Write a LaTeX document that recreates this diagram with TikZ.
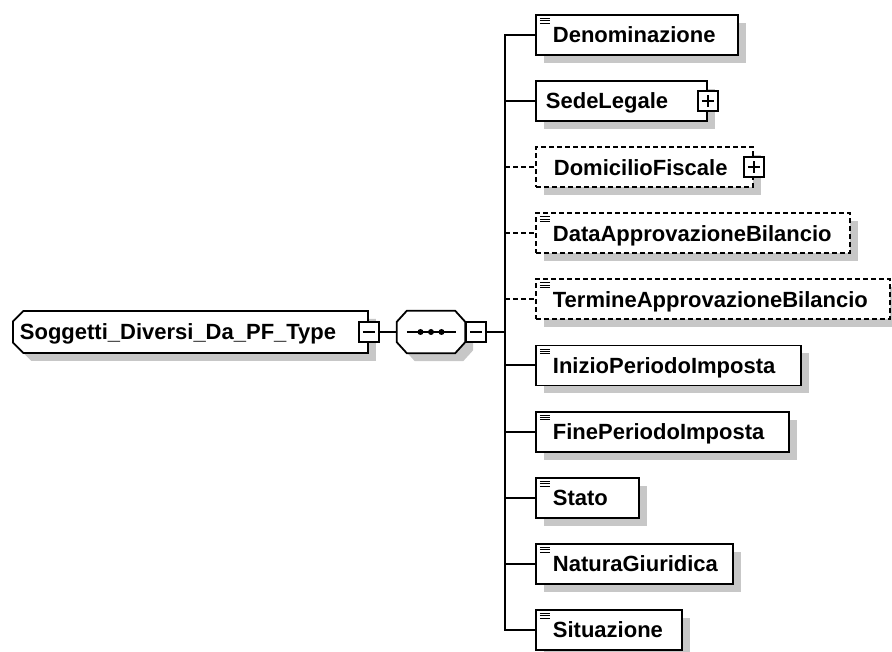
\documentclass[tikz,border=0pt]{standalone}
\usepackage{fontspec}
\setmainfont{Liberation Sans}
\usetikzlibrary{positioning, shapes.misc, shadows}

\tikzset{
    xsdline/.style={line width=2pt},
    optional/.style={dash pattern=on 5pt off 3pt},
    xsdshadow/.style={general shadow={fill=black!22, shadow xshift=8pt, shadow yshift=-8pt}},
    xsdfont/.style={font=\bfseries\fontsize{22}{26}\selectfont},
    elem/.style={draw, fill=white, line width=1.8pt, anchor=west, minimum height=40pt,
        inner xsep=17pt, inner ysep=0pt, align=left, text height=15.8pt, text depth=0pt,
        xsdfont, xsdshadow},
    simple/.style={path picture={
        \foreach \k in {0,1,2}
            \draw[line width=0.9pt, solid] ([xshift=4pt, yshift=-3.5pt-\k*2.4pt]path picture bounding box.north west) -- ++(10pt,0pt);
    }},
    rootbox/.style={chamfered rectangle, chamfered rectangle corners={north west,south west},
        chamfered rectangle xsep=7pt, draw, fill=white, line width=1.8pt, anchor=west,
        minimum height=42pt, inner xsep=0pt, inner ysep=0pt, align=left, text width=341pt,
        text height=15.8pt, text depth=0pt, xsdfont, xsdshadow},
    seqbox/.style={minimum width=68pt, minimum height=42pt, inner sep=0pt},
    pmbox/.style={draw, fill=white, line width=1.8pt, minimum size=20pt, inner sep=0pt},
    minusbox/.style={pmbox, path picture={
        \draw[line width=1.4pt, solid] ([xshift=4pt]path picture bounding box.west) -- ([xshift=-4pt]path picture bounding box.east);
    }},
    plusbox/.style={pmbox, path picture={
        \draw[line width=1.4pt, solid] ([xshift=4pt]path picture bounding box.west) -- ([xshift=-4pt]path picture bounding box.east)
            ([yshift=-4pt]path picture bounding box.north) -- ([yshift=4pt]path picture bounding box.south);
    }}
}

\begin{document}
\begin{tikzpicture}[x=1pt, y=-1pt]
    \useasboundingbox (0,0) rectangle (892,652);

    % complex type and its sequence
    \node[rootbox] (root) at (12,332) {Soggetti\_Diversi\_Da\_PF\_Type};
    \node[minusbox] (rootM) at (root.east) {};
    \node[seqbox] (seq) at (431,332) {};
    \draw[line width=1.8pt, fill=white, xsdshadow]
        ([xshift=10pt]seq.north west) -- ([xshift=-10pt]seq.north east)
        -- ([yshift=-11pt]seq.north east) -- ([yshift=11pt]seq.south east)
        -- ([xshift=-10pt]seq.south east) -- ([xshift=10pt]seq.south west)
        -- ([yshift=11pt]seq.south west) -- ([yshift=-11pt]seq.north west) -- cycle;
    \draw[line width=1.6pt] ([xshift=10pt]seq.west) -- ([xshift=-9pt]seq.east);
    \foreach \d in {-10.5,0,10.5}
        \fill[black] ([xshift=\d pt]seq.center) circle (3pt);
    \node[minusbox, right=0pt of seq] (seqM) {};
    \coordinate (hub) at (505,332);

    % child elements
    \node[elem, simple, text width=168pt] (denom) at (535,35) {Denominazione};
    \node[elem, text width=151pt, inner xsep=10pt] (sede) at (535,101.1) {SedeLegale};
    \node[elem, optional, text width=181pt, inner xsep=18pt] (domic) at (535,167.2) {DomicilioFiscale};
    \node[elem, optional, simple, text width=280pt] (dataApp) at (535,233.3) {DataApprovazioneBilancio};
    \node[elem, optional, simple, text width=320pt] (termApp) at (535,299.4) {TermineApprovazioneBilancio};
    \node[elem, simple, text width=231pt] (inizio) at (535,365.5) {InizioPeriodoImposta};
    \node[elem, simple, text width=219pt] (fine) at (535,431.6) {FinePeriodoImposta};
    \node[elem, simple, text width=69pt] (stato) at (535,497.7) {Stato};
    \node[elem, simple, text width=163pt] (natura) at (535,563.8) {NaturaGiuridica};
    \node[elem, simple, text width=112pt] (situaz) at (535,629.9) {Situazione};

    \node[plusbox] (sedeP) at (sede.east) {};
    \node[plusbox] (domicP) at (domic.east) {};

    \draw[xsdline]
    (rootM) -- (seq)
    (seqM) -- (hub)
    (denom.west) -| (hub |- situaz.west) -- (situaz.west)
    (hub |- sede.west) -- (sede.west)
    (hub |- inizio.west) -- (inizio.west)
    (hub |- fine.west) -- (fine.west)
    (hub |- stato.west) -- (stato.west)
    (hub |- natura.west) -- (natura.west);
    \draw[xsdline, optional]
    (hub |- domic.west) -- (domic.west)
    (hub |- dataApp.west) -- (dataApp.west)
    (hub |- termApp.west) -- (termApp.west);
\end{tikzpicture}
\end{document}
